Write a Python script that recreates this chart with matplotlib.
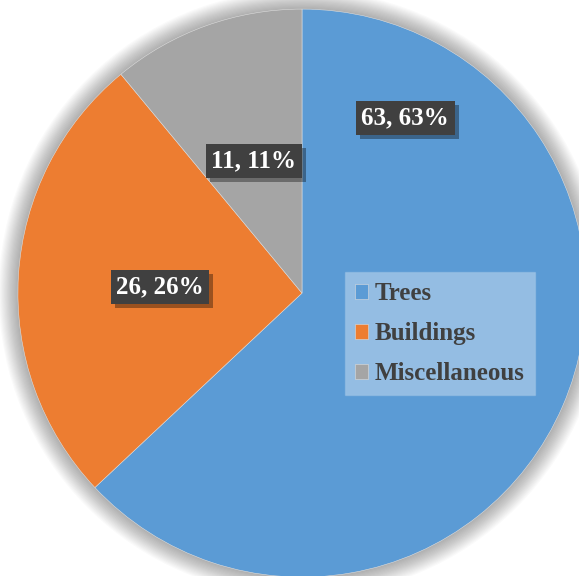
import matplotlib.pyplot as plt
import matplotlib.patheffects as pe
from matplotlib.patches import Circle

categories = ['Trees', 'Buildings', 'Miscellaneous']
values = [63, 26, 11]
colors = ['#5B9BD5', '#ED7D31', '#A5A5A5']
# label spots (data units, pie radius = 1)
label_pos = [(0.363, 0.616), (-0.50, 0.021), (-0.169, 0.465)]

plt.rcParams['font.family'] = ['Liberation Serif', 'DejaVu Serif']

fig = plt.figure(figsize=(5.79, 5.76), dpi=100)
ax = fig.add_axes([0, 0, 1, 1])

# soft shadow round the pie
for i in range(18):
    ax.add_patch(Circle((0, 0.0), 1 + i * 0.004, color='#000000', alpha=0.018, lw=0, zorder=0))

wedges, _ = ax.pie(values, colors=colors, startangle=90, counterclock=False,
                   radius=1, wedgeprops=dict(linewidth=0.4, edgecolor='#dddddd'))
for w in wedges:
    w.set_zorder(1)

total = sum(values)
for v, (x, y) in zip(values, label_pos):
    txt = f'{v}, {round(v / total * 100)}%'
    t = ax.text(x, y, txt, ha='center', va='center', fontsize=18, fontweight='bold',
                color='white', zorder=4,
                bbox=dict(boxstyle='square,pad=0.22', fc='#404040', ec='none'))
    t.get_bbox_patch().set_path_effects([
        pe.SimplePatchShadow(offset=(3, -3), shadow_rgbFace='black', alpha=0.35),
        pe.Normal()])

leg = ax.legend(wedges, categories, loc='upper left', bbox_to_anchor=(0.596, 0.527),
                prop=dict(weight='bold', size=18), frameon=True,
                fancybox=False, handlelength=0.5, handleheight=0.5, handletextpad=0.3,
                labelspacing=0.68, borderpad=0.4, borderaxespad=0)
frame = leg.get_frame()
frame.set_facecolor('#FFFFFF')
frame.set_alpha(0.35)
frame.set_edgecolor('#B0CDEA')
for t in leg.get_texts():
    t.set_color('#404040')
leg.set_zorder(5)

ax.set_xlim(-1.063, 0.975)
ax.set_ylim(-0.996, 1.032)
ax.set_aspect('auto')
ax.axis('off')

fig.savefig('out.png', dpi=100)
